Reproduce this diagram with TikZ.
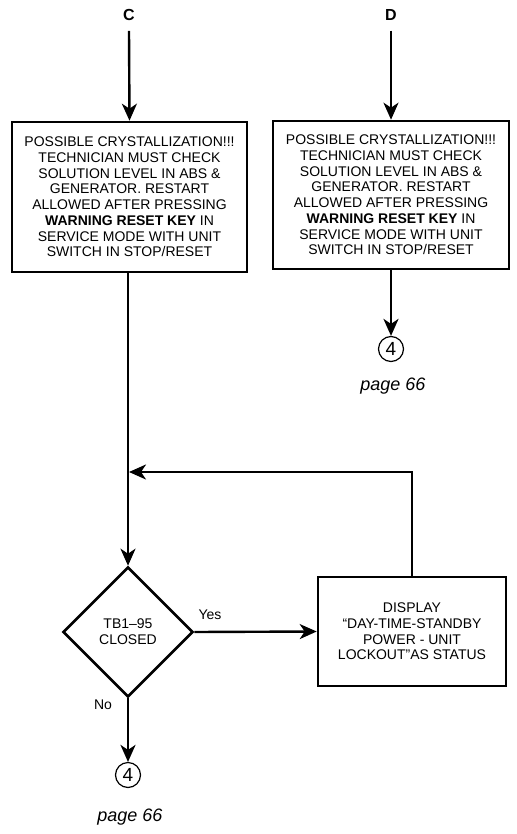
\documentclass[tikz,border=0pt]{standalone}
\usepackage{fontspec}
\setmainfont{Liberation Sans}
\usetikzlibrary{arrows.meta,shapes.geometric}
\begin{document}
\begin{tikzpicture}[x=1pt,y=-1pt,
  line width=2.4pt,
  arr/.style={-{Stealth[length=17pt,width=15pt,inset=5pt]}},
  txt/.style={font=\fontsize{14}{15.7}\selectfont, align=center, inner sep=0pt},
  procbox/.style={draw, line width=2.6pt, txt},
  conn/.style={draw, circle, line width=1.2pt, minimum size=25pt, inner sep=0pt, font=\fontsize{19}{19}\selectfont},
  pg/.style={font=\fontsize{18}{18}\selectfont\itshape, inner sep=0pt},
  lbl/.style={font=\fontsize{14}{14}\selectfont, inner sep=0pt}]
\useasboundingbox (0,0) rectangle (516,834);
\node[font=\bfseries\fontsize{16}{16}\selectfont, inner sep=0pt] (C) at (129,15) {C};
\node[font=\bfseries\fontsize{16}{16}\selectfont, inner sep=0pt] (D) at (391,15) {D};
\node[procbox, minimum width=235pt, minimum height=150pt] (b1) at (129.5,197) {POSSIBLE CRYSTALLIZATION!!!\\TECHNICIAN MUST CHECK\\SOLUTION LEVEL IN ABS \&\\GENERATOR. RESTART\\ALLOWED AFTER PRESSING\\\textbf{WARNING RESET KEY} IN\\SERVICE MODE WITH UNIT\\SWITCH IN STOP/RESET};
\node[procbox, minimum width=236pt, minimum height=148pt] (b2) at (391,195) {POSSIBLE CRYSTALLIZATION!!!\\TECHNICIAN MUST CHECK\\SOLUTION LEVEL IN ABS \&\\GENERATOR. RESTART\\ALLOWED AFTER PRESSING\\\textbf{WARNING RESET KEY} IN\\SERVICE MODE WITH UNIT\\SWITCH IN STOP/RESET};
\node[conn] (c4r) at (391,349) {4};
\node[pg] (p1) at (393,386) {page 66};
\node[draw, diamond, aspect=1, line width=2.6pt, minimum width=130pt, minimum height=130pt, inner sep=0pt, txt] (dia) at (128,632) {TB1--95\\CLOSED};
\node[procbox, minimum width=188pt, minimum height=109pt] (disp) at (412,631.5) {DISPLAY\\``DAY-TIME-STANDBY\\POWER - UNIT\\LOCKOUT''AS STATUS};
\node[conn] (c4l) at (128,775) {4};
\node[pg] (p2) at (130,817) {page 66};
\node[lbl] (yes) at (210,615) {Yes};
\node[lbl] (no) at (103,705) {No};
\coordinate (j) at (129,472);
\coordinate (jr) at (412,472);
\draw[arr] ([yshift=-9pt]C.south) -- (b1.north);
\draw[arr] ([yshift=-9pt]D.south) -- (b2.north);
\draw[arr] (b2.south) -- (c4r.north);
\draw[arr] (b1.south -| dia.north) -- (dia.north);
\draw[arr] (disp.north) -- (jr) -- (j);
\draw[arr] (dia.east) -- (disp.west);
\draw[arr] (dia.south) -- (c4l.north);
\end{tikzpicture}
\end{document}
